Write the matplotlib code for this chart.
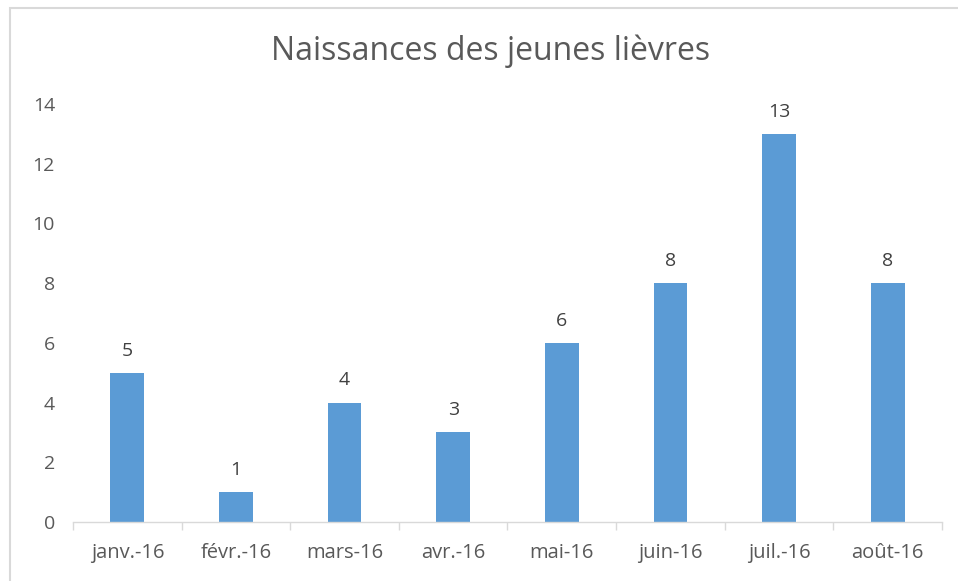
import matplotlib
matplotlib.use("Agg")
import matplotlib.pyplot as plt
import numpy as np
from matplotlib.patches import Rectangle

months = ["janv.-16", "févr.-16", "mars-16", "avr.-16", "mai-16", "juin-16", "juil.-16", "août-16"]
births = [5, 1, 4, 3, 6, 8, 13, 8]
yticks = [0, 2, 4, 6, 8, 10, 12, 14]

plt.rcParams['font.family'] = ['Open Sans', 'DejaVu Sans']

fig = plt.figure(figsize=(9.58, 5.81), dpi=100)
ax = fig.add_axes([73/958, 1-522/581, (942-73)/958, (522-104)/581])

x = np.arange(len(months))
bars = ax.bar(x, births, width=0.31, color="#5B9BD5")
for xi, v in zip(x, births):
    ax.annotate(str(v), (xi, v), xytext=(0, 9.5), textcoords="offset points",
                ha="center", va="bottom", fontsize=14, color="#404040")

ax.set_xlim(-0.5, len(months) - 0.5)
ax.set_ylim(0, 14)
ax.set_yticks(yticks)
ax.set_xticks(x)
ax.set_xticklabels(months)
ax.set_xticks(np.arange(-0.5, len(months)), minor=True)
ax.tick_params(axis="x", which="major", length=0, pad=15, labelsize=14.5, labelcolor="#595959")
ax.tick_params(axis="x", which="minor", length=6, color="#D9D9D9", width=1)
ax.tick_params(axis="y", length=0, pad=13, labelsize=14, labelcolor="#595959")
for s in ["top", "right", "left"]:
    ax.spines[s].set_visible(False)
ax.spines["bottom"].set_color("#D9D9D9")
ax.spines["bottom"].set_linewidth(1)

fig.text(491/958, 1-51/581, "Naissances des jeunes lièvres", ha="center", va="center",
         fontsize=23, color="#595959")

# chart area border (cropped at right/bottom)
fig.add_artist(Rectangle((10/958, -0.1), 1.1, 1.1 - 7.5/581, transform=fig.transFigure,
                         fill=False, edgecolor="#D9D9D9", linewidth=1.5))

fig.savefig("out.png", dpi=100)
